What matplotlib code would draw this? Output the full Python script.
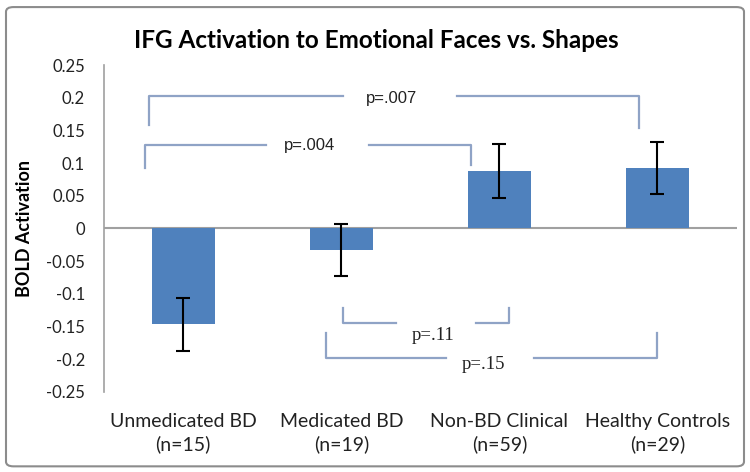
"""
IFG activation to emotional faces vs. shapes - bar chart with significance brackets
"""

import numpy as np
import matplotlib
matplotlib.use("Agg")
import matplotlib.pyplot as plt
from matplotlib.patches import FancyBboxPatch

# datos
grupos = ["Unmedicated BD\n(n=15)", "Medicated BD\n(n=19)",
          "Non-BD Clinical\n(n=59)", "Healthy Controls\n(n=29)"]
activacion = [-0.147, -0.033, 0.088, 0.093]
error = [0.040, 0.040, 0.041, 0.040]
yticks = [-0.25, -0.2, -0.15, -0.1, -0.05, 0, 0.05, 0.1, 0.15, 0.2, 0.25]
ytick_labels = ["-0.25", "-0.2", "-0.15", "-0.1", "-0.05", "0",
                "0.05", "0.1", "0.15", "0.2", "0.25"]

# corchetes: (x izq, x der, y linea, y izq, y der, texto, x texto, y texto, x hueco, ancho hueco, fuente)
corchetes = [
    (-0.22, 2.88, 0.202, 0.159, 0.154, "p=.007", 1.32, 0.199, 1.37, 0.72, "sans"),
    (-0.24, 1.82, 0.128, 0.093, 0.097, "p=.004", 0.80, 0.127, 0.85, 0.65, "sans"),
    (1.01, 2.06, -0.145, -0.122, -0.122, "p=.11", 1.58, -0.164, 1.60, 0.51, "serif"),
    (0.90, 3.00, -0.199, -0.160, -0.160, "p=.15", 1.90, -0.209, 1.94, 0.56, "serif"),
]

color_barra = "#4F81BD"
color_corchete = "#8FA3C6"

fig = plt.figure(figsize=(7.5, 4.72), dpi=100)
ax = fig.add_axes([0.139, 0.170, 0.843, 0.692])

x = np.arange(len(grupos))
ax.bar(x, activacion, width=0.4, color=color_barra, zorder=2)
ax.errorbar(x, activacion, yerr=error, fmt="none", ecolor="black",
            elinewidth=1.5, capsize=5, capthick=1.5, zorder=3)

ax.axhline(0, color="#A0A0A0", linewidth=1.5, zorder=1)
ax.set_xlim(-0.5, len(grupos) - 0.5)
ax.set_ylim(-0.25, 0.25)
ax.set_yticks(yticks)
ax.set_yticklabels(ytick_labels, fontsize=12, family="Lato", color="#222222")
ax.tick_params(axis="y", length=0, pad=14)
ax.set_xticks([])
for lado in ["top", "right", "bottom"]:
    ax.spines[lado].set_visible(False)
ax.spines["left"].set_color("#A0A0A0")
ax.spines["left"].set_linewidth(1.2)

# etiquetas de categorias debajo del eje
for i, g in enumerate(grupos):
    ax.text(i, -0.282, g, ha="center", va="top", fontsize=14,
            family="Lato", color="#222222", linespacing=1.35)

ax.set_ylabel("BOLD Activation", fontsize=13, fontweight="bold",
              family="Lato", labelpad=9)

# corchetes de significancia
for x0, x1, yl, y0, y1, txt, xt, yt, xh, hueco, fuente in corchetes:
    ax.plot([x0, x0, xh - hueco / 2], [y0, yl, yl], color=color_corchete,
            linewidth=1.6, solid_joinstyle="round", zorder=1)
    ax.plot([xh + hueco / 2, x1, x1], [yl, yl, y1], color=color_corchete,
            linewidth=1.6, solid_joinstyle="round", zorder=1)
    if fuente == "serif":
        ax.text(xt, yt, txt, ha="center", va="center", fontsize=13.5,
                family="Liberation Serif", color="#222222")
    else:
        ax.text(xt, yt, txt, ha="center", va="center", fontsize=12,
                family="Liberation Sans", color="#222222")

fig.text(0.502, 0.915, "IFG Activation to Emotional Faces vs. Shapes",
         ha="center", va="center", fontsize=17.5, fontweight="bold", family="Lato")

# marco exterior
marco = FancyBboxPatch((0.008, 0.012), 0.984, 0.973, transform=fig.transFigure,
                       boxstyle="round,pad=0,rounding_size=0.01",
                       facecolor="none", edgecolor="#8C8C8C", linewidth=1.5)
fig.patches.append(marco)

fig.savefig("out.png", dpi=100)
